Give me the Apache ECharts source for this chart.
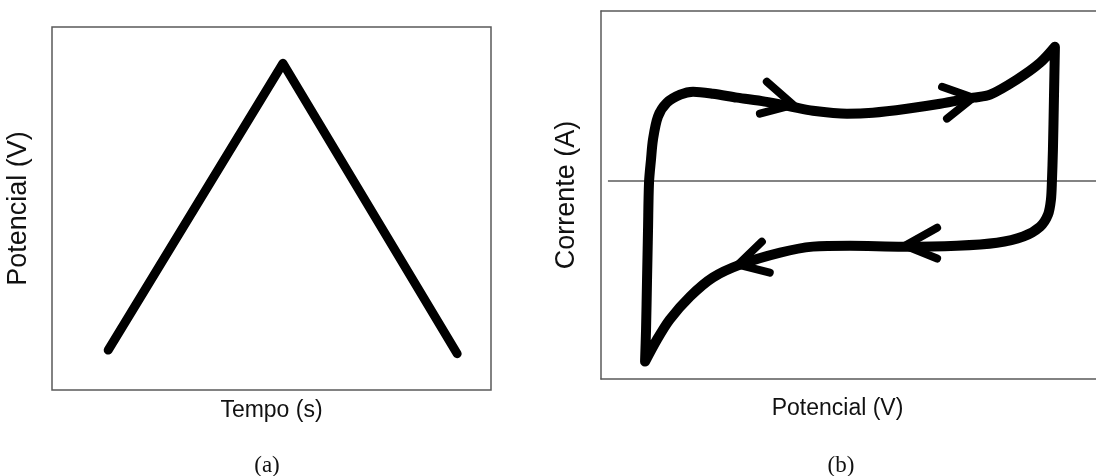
<!DOCTYPE html>
<html>
<head>
<meta charset="utf-8">
<script src="https://cdn.jsdelivr.net/npm/echarts@6/dist/echarts.min.js"></script>
<style>
  html, body { margin: 0; padding: 0; background: #fff; }
  #chart { width: 1096px; height: 476px; }
</style>
</head>
<body>
<div id="chart"></div>
<script>
// (a) triangular potential sweep: time (s) vs potential (V)
const tempo = [12.8, 52.6, 92.3];
const potencialA = [0.11, 0.90, 0.10];

// (b) cyclic voltammogram: potential vs current, traced as one closed loop
const potencialB = [8.9, 9.1, 9.3, 9.5, 9.7, 10.1, 10.5, 11.5, 13.3, 16.0, 18.6, 22.6, 27.5, 33.1, 38.6, 42.8, 49.7,
  54.9, 61.8, 68.5, 75.2, 78.6, 84.0, 88.7, 91.7, 91.5, 91.3, 91.1, 90.9, 90.3, 88.7, 85.3, 80.0, 71.9, 61.0,
  50.3, 42.8, 36.2, 28.1, 22.6, 18.0, 13.9, 11.3, 8.9];
const corrente = [-91.2, -75.0, -49.7, -24.5, -0.8, 10.9, 21.0, 32.6, 39.6, 43.7, 45.2, 44.2, 42.2, 40.2, 37.6, 35.6, 34.1,
  34.6, 36.6, 39.1, 42.2, 43.7, 51.3, 59.8, 67.9, 41.2, 15.9, 0.3, -9.3, -16.9, -23.0, -28.0, -31.1, -32.6, -33.1,
  -32.6, -33.1, -36.1, -42.2, -48.7, -58.3, -69.9, -80.1, -91.2];

// direction arrows on the voltammogram: [barb, tip, barb] for each
const setaE = [
  [33.5, 38.8, 32.1],
  [68.9, 75.2, 69.9],
  [67.9, 61.4, 67.9],
  [32.5, 27.7, 34.1]
];
const setaI = [
  [50.3, 38.6, 34.1],
  [47.7, 42.2, 31.6],
  [-23.5, -32.6, -39.1],
  [-30.6, -42.2, -46.2]
];

const zip = (xs, ys) => xs.map((x, i) => [x, ys[i]]);

const axisGrey = '#5a5a5a';
const xNameStyle = { fontFamily: 'Liberation Sans', fontSize: 23, color: '#111' };
const yNameStyle = { fontFamily: 'Liberation Sans', fontSize: 27, color: '#111' };
const captionStyle = { fontFamily: 'Liberation Serif', fontSize: 23, fontWeight: 'normal', color: '#111' };

const chart = echarts.init(document.getElementById('chart'), null, { renderer: 'canvas' });

const arrowSeries = setaE.map((es, k) => ({
  type: 'line',
  xAxisIndex: 1,
  yAxisIndex: 1,
  data: zip(es, setaI[k]),
  symbol: 'none',
  silent: true,
  lineStyle: { color: '#000', width: 8, cap: 'round', join: 'round' },
  z: 4
}));

chart.setOption({
  animation: false,
  backgroundColor: '#fff',
  title: [
    { text: '(a)', left: 262, top: 449, textAlign: 'center', textStyle: captionStyle },
    { text: '(b)', left: 836, top: 449, textAlign: 'center', textStyle: captionStyle }
  ],
  grid: [
    { left: 52, top: 27, width: 439, height: 363, show: true, borderColor: axisGrey, borderWidth: 1.5, backgroundColor: 'transparent' },
    { left: 601, top: 11, width: 495, height: 368 }
  ],
  xAxis: [
    { gridIndex: 0, type: 'value', min: 0, max: 100,
      name: 'Tempo (s)', nameLocation: 'middle', nameGap: 9, nameTextStyle: xNameStyle,
      axisLine: { show: false }, axisTick: { show: false }, axisLabel: { show: false }, splitLine: { show: false } },
    { gridIndex: 1, type: 'value', min: 0, max: 100,
      name: 'Potencial (V)', nameLocation: 'middle', nameGap: 18,
      nameTextStyle: Object.assign({ padding: [0, 22, 0, 0] }, xNameStyle),
      axisLine: { show: true, onZero: false, lineStyle: { color: axisGrey, width: 1.5 } },
      axisTick: { show: false }, axisLabel: { show: false }, splitLine: { show: false } },
    { gridIndex: 1, type: 'value', min: 0, max: 100, position: 'top',
      axisLine: { show: true, onZero: false, lineStyle: { color: axisGrey, width: 1.5 } },
      axisTick: { show: false }, axisLabel: { show: false }, splitLine: { show: false } }
  ],
  yAxis: [
    { gridIndex: 0, type: 'value', min: 0, max: 1,
      name: 'Potencial (V)', nameLocation: 'middle', nameGap: 20, nameTextStyle: yNameStyle,
      axisLine: { show: false }, axisTick: { show: false }, axisLabel: { show: false }, splitLine: { show: false } },
    { gridIndex: 1, type: 'value', min: -100, max: 86,
      name: 'Corrente (A)', nameLocation: 'middle', nameGap: 21, nameTextStyle: yNameStyle,
      axisLine: { show: true, onZero: false, lineStyle: { color: axisGrey, width: 1.5 } },
      axisTick: { show: false }, axisLabel: { show: false }, splitLine: { show: false } }
  ],
  series: [
    {
      type: 'line',
      xAxisIndex: 0,
      yAxisIndex: 0,
      data: zip(tempo, potencialA),
      symbol: 'none',
      silent: true,
      lineStyle: { color: '#000', width: 9, cap: 'round', join: 'round' },
      z: 3
    },
    {
      type: 'line',
      xAxisIndex: 1,
      yAxisIndex: 1,
      data: zip(potencialB, corrente),
      symbol: 'none',
      smooth: 0.3,
      silent: true,
      lineStyle: { color: '#000', width: 10, cap: 'round', join: 'round' },
      markLine: {
        silent: true,
        symbol: 'none',
        label: { show: false },
        lineStyle: { color: axisGrey, width: 1.5, type: 'solid' },
        data: [[{ coord: [1.4, 0] }, { coord: [100, 0] }]],
        z: 1
      },
      z: 3
    },
    ...arrowSeries
  ]
});
</script>
</body>
</html>
